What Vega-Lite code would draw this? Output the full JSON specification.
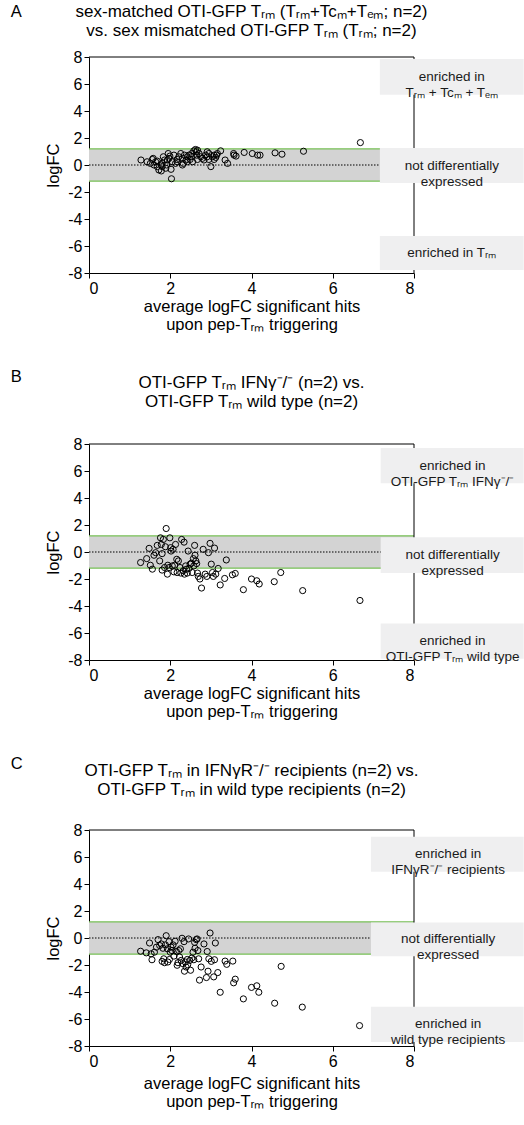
{
  "$schema": "https://vega.github.io/schema/vega-lite/v6.json",
  "padding": {"left": 10, "top": 3, "right": 0, "bottom": 0},
  "spacing": 35,
  "config": {
    "font": "Liberation Sans",
    "view": {"stroke": null},
    "axis": {"domainColor": "black", "tickColor": "black", "labelColor": "black", "titleColor": "black", "grid": false, "labelFontSize": 16, "titleFontSize": 16.5, "titleFontWeight": "normal", "tickSize": 5, "labelPadding": 2, "labelOverlap": false, "labelExpr": "'' + datum.value"},
    "axisX": {"tickCount": 5},
    "axisY": {"tickCount": 9},
    "rect": {"opacity": 1},
    "title": {"fontSize": 17, "fontWeight": "normal", "color": "black", "lineHeight": 19}
  },
  "datasets": {
    "one": [{}],
    "a": [
      {"x":1.28,"y":0.37},{"x":1.43,"y":0.24},{"x":1.51,"y":0.12},{"x":1.56,"y":0.41},{"x":1.58,"y":0.49},{"x":1.64,"y":0.24},{"x":1.68,"y":-0.12},{"x":1.72,"y":-0.37},{"x":1.78,"y":-0.44},{"x":1.8,"y":0.12},{"x":1.83,"y":0.61},{"x":1.86,"y":0.37},{"x":1.91,"y":0.0},{"x":1.95,"y":0.85},{"x":1.97,"y":0.49},{"x":1.99,"y":0.66},{"x":2.02,"y":-0.32},{"x":2.03,"y":-1.02},{"x":2.05,"y":0.24},{"x":2.09,"y":0.73},{"x":2.13,"y":0.12},{"x":2.17,"y":0.41},{"x":2.21,"y":0.61},{"x":2.26,"y":0.85},{"x":2.3,"y":0.49},{"x":2.32,"y":0.12},{"x":2.35,"y":0.73},{"x":2.39,"y":0.37},{"x":2.42,"y":0.61},{"x":2.46,"y":0.73},{"x":2.49,"y":0.41},{"x":2.52,"y":0.61},{"x":2.55,"y":0.24},{"x":2.58,"y":1.05},{"x":2.62,"y":1.15},{"x":2.65,"y":0.73},{"x":2.67,"y":0.41},{"x":2.71,"y":0.85},{"x":2.75,"y":0.61},{"x":2.79,"y":0.49},{"x":2.83,"y":0.37},{"x":2.87,"y":0.73},{"x":2.91,"y":0.98},{"x":2.95,"y":0.85},{"x":3.0,"y":-0.12},{"x":3.04,"y":0.61},{"x":3.08,"y":0.73},{"x":3.12,"y":0.56},{"x":3.16,"y":0.85},{"x":3.24,"y":1.05},{"x":3.35,"y":0.37},{"x":3.41,"y":0.12},{"x":3.56,"y":0.85},{"x":3.57,"y":0.73},{"x":3.62,"y":0.66},{"x":3.82,"y":0.93},{"x":4.02,"y":0.85},{"x":4.15,"y":0.73},{"x":4.21,"y":0.73},{"x":4.58,"y":0.9},{"x":4.75,"y":0.8},{"x":5.28,"y":1.02},{"x":6.68,"y":1.66},
      {"x":1.93,"y":0.37},{"x":2.17,"y":0.24},{"x":2.42,"y":0.24},{"x":2.53,"y":0.85},{"x":2.64,"y":0.98},{"x":2.67,"y":1.1},{"x":2.91,"y":0.61},{"x":2.95,"y":0.41},{"x":3.08,"y":0.41},{"x":3.14,"y":0.73},{"x":2.3,"y":0.0},{"x":1.78,"y":0.0},{"x":1.89,"y":-0.24},{"x":1.6,"y":0.0},{"x":1.68,"y":0.29},{"x":1.8,"y":-0.12}
    ],
    "b": [
      {"x":1.27,"y":-0.78},{"x":1.42,"y":-0.49},{"x":1.48,"y":0.27},{"x":1.51,"y":-0.98},{"x":1.56,"y":-1.27},{"x":1.6,"y":-0.24},{"x":1.64,"y":-0.05},{"x":1.68,"y":0.49},{"x":1.74,"y":-0.66},{"x":1.76,"y":1.05},{"x":1.78,"y":0.56},{"x":1.8,"y":-0.12},{"x":1.8,"y":-1.34},{"x":1.83,"y":0.93},{"x":1.86,"y":-1.15},{"x":1.88,"y":0.39},{"x":1.9,"y":1.74},{"x":1.93,"y":-1.64},{"x":1.94,"y":-0.98},{"x":1.97,"y":-1.15},{"x":1.99,"y":1.05},{"x":2.01,"y":0.32},{"x":2.02,"y":0.07},{"x":2.05,"y":-1.03},{"x":2.07,"y":0.2},{"x":2.09,"y":-1.47},{"x":2.11,"y":-0.98},{"x":2.13,"y":0.56},{"x":2.16,"y":-0.54},{"x":2.17,"y":-1.52},{"x":2.2,"y":-0.66},{"x":2.24,"y":-1.15},{"x":2.26,"y":-1.56},{"x":2.28,"y":0.93},{"x":2.32,"y":-1.39},{"x":2.34,"y":0.73},{"x":2.35,"y":-1.64},{"x":2.38,"y":-1.03},{"x":2.4,"y":-1.27},{"x":2.42,"y":-1.56},{"x":2.44,"y":0.07},{"x":2.46,"y":-1.22},{"x":2.49,"y":-0.9},{"x":2.52,"y":-0.83},{"x":2.54,"y":-1.52},{"x":2.57,"y":-0.49},{"x":2.58,"y":-1.03},{"x":2.6,"y":0.49},{"x":2.61,"y":-0.24},{"x":2.63,"y":-0.66},{"x":2.65,"y":-0.86},{"x":2.67,"y":-1.56},{"x":2.69,"y":-1.81},{"x":2.73,"y":-2.0},{"x":2.77,"y":-2.67},{"x":2.81,"y":0.2},{"x":2.86,"y":-1.64},{"x":2.9,"y":-1.81},{"x":2.94,"y":-0.05},{"x":2.98,"y":0.64},{"x":3.01,"y":-0.9},{"x":3.04,"y":-1.52},{"x":3.06,"y":-1.81},{"x":3.09,"y":0.29},{"x":3.12,"y":-1.64},{"x":3.18,"y":-1.22},{"x":3.23,"y":-2.44},{"x":3.34,"y":-1.96},{"x":3.38,"y":-0.59},{"x":3.53,"y":-1.69},{"x":3.6,"y":-1.59},{"x":3.8,"y":-2.79},{"x":4.0,"y":-2.0},{"x":4.13,"y":-2.13},{"x":4.19,"y":-2.37},{"x":4.56,"y":-2.2},{"x":4.72,"y":-1.52},{"x":5.26,"y":-2.86},{"x":6.67,"y":-3.59}
    ],
    "c": [
      {"x":1.27,"y":-0.98},{"x":1.41,"y":-1.1},{"x":1.49,"y":-0.37},{"x":1.53,"y":-1.17},{"x":1.55,"y":-1.61},{"x":1.61,"y":-1.05},{"x":1.66,"y":-0.68},{"x":1.7,"y":-0.12},{"x":1.74,"y":-0.56},{"x":1.78,"y":-0.44},{"x":1.8,"y":-1.73},{"x":1.82,"y":-0.76},{"x":1.84,"y":-1.54},{"x":1.86,"y":-1.83},{"x":1.88,"y":-0.51},{"x":1.9,"y":0.17},{"x":1.93,"y":-0.8},{"x":1.94,"y":-1.78},{"x":1.97,"y":-0.27},{"x":1.98,"y":-1.59},{"x":2.0,"y":-1.05},{"x":2.02,"y":-0.68},{"x":2.04,"y":-0.93},{"x":2.07,"y":-0.51},{"x":2.09,"y":-1.34},{"x":2.12,"y":-0.24},{"x":2.15,"y":-1.0},{"x":2.17,"y":-2.02},{"x":2.19,"y":-1.83},{"x":2.21,"y":-0.93},{"x":2.23,"y":-1.41},{"x":2.25,"y":-0.8},{"x":2.27,"y":-1.66},{"x":2.29,"y":-0.02},{"x":2.31,"y":-1.9},{"x":2.34,"y":-0.27},{"x":2.35,"y":-2.46},{"x":2.37,"y":-1.78},{"x":2.39,"y":-2.15},{"x":2.42,"y":-1.59},{"x":2.43,"y":-1.98},{"x":2.45,"y":-0.07},{"x":2.48,"y":-1.66},{"x":2.5,"y":-2.39},{"x":2.53,"y":-1.49},{"x":2.56,"y":-1.05},{"x":2.58,"y":-1.61},{"x":2.6,"y":-0.32},{"x":2.61,"y":-0.76},{"x":2.64,"y":-0.12},{"x":2.66,"y":-0.07},{"x":2.68,"y":-0.93},{"x":2.7,"y":-1.54},{"x":2.72,"y":-3.12},{"x":2.76,"y":-2.15},{"x":2.83,"y":-0.44},{"x":2.89,"y":-2.93},{"x":2.91,"y":-1.0},{"x":2.93,"y":-2.46},{"x":2.95,"y":-1.54},{"x":2.98,"y":0.37},{"x":3.01,"y":-1.73},{"x":3.07,"y":-2.88},{"x":3.09,"y":-1.61},{"x":3.11,"y":-0.37},{"x":3.17,"y":-2.56},{"x":3.23,"y":-4.02},{"x":3.35,"y":-1.71},{"x":3.39,"y":-1.95},{"x":3.54,"y":-1.71},{"x":3.56,"y":-3.32},{"x":3.6,"y":-3.05},{"x":3.8,"y":-4.51},{"x":4.0,"y":-3.66},{"x":4.13,"y":-3.54},{"x":4.18,"y":-4.02},{"x":4.57,"y":-4.83},{"x":4.73,"y":-2.1},{"x":5.25,"y":-5.12},{"x":6.66,"y":-6.49}
    ],
    "thr": [{"t": 1.2}, {"t": -1.2}]
  },
  "vconcat": [
    {
      "title": {"text": "A", "anchor": "start", "fontSize": 16.5, "dx": -35, "dy": 17, "offset": 0},
      "vconcat": [{
      "width": 325, "height": 216,
      "title": {"text": ["sex-matched OTI-GFP Tᵣₘ  (Tᵣₘ+Tcₘ+Tₑₘ; n=2)", "vs. sex mismatched OTI-GFP Tᵣₘ (Tᵣₘ; n=2)"], "offset": 9},
      "layer": [
        {"data": {"name": "one"}, "mark": {"type": "rect", "color": "#d3d3d3"}, "encoding": {"x": {"datum": 0, "type": "quantitative", "scale": {"domain": [0, 8], "nice": false}}, "x2": {"datum": 8}, "y": {"datum": -1.2, "type": "quantitative", "scale": {"domain": [-8, 8], "nice": false}}, "y2": {"datum": 1.2}}},
        {"data": {"name": "thr"}, "mark": {"type": "rule", "color": "#78c257", "strokeWidth": 1.2}, "encoding": {"x": {"datum": 0, "type": "quantitative", "scale": {"domain": [0, 8], "nice": false}}, "x2": {"datum": 8}, "y": {"field": "t", "type": "quantitative", "scale": {"domain": [-8, 8], "nice": false}}}},
        {"data": {"name": "one"}, "mark": {"type": "rule", "color": "black", "strokeWidth": 1.2, "strokeDash": [1.5, 1.5]}, "encoding": {"x": {"datum": 0, "type": "quantitative", "scale": {"domain": [0, 8], "nice": false}}, "x2": {"datum": 8}, "y": {"datum": 0, "type": "quantitative", "scale": {"domain": [-8, 8], "nice": false}}}},
        {"data": {"name": "one"}, "mark": {"type": "rule", "color": "black", "strokeWidth": 1}, "encoding": {"x": {"datum": 0, "type": "quantitative", "scale": {"domain": [0, 8], "nice": false}}, "x2": {"datum": 8}, "y": {"datum": 8, "type": "quantitative", "scale": {"domain": [-8, 8], "nice": false}}}},
        {"data": {"name": "one"}, "mark": {"type": "rule", "color": "black", "strokeWidth": 1}, "encoding": {"x": {"datum": 8, "type": "quantitative", "scale": {"domain": [0, 8], "nice": false}}, "y": {"datum": -8, "type": "quantitative", "scale": {"domain": [-8, 8], "nice": false}}, "y2": {"datum": 8}}},
        {"data": {"name": "a"}, "mark": {"type": "point", "shape": "circle", "filled": false, "stroke": "black", "strokeWidth": 1, "size": 38, "opacity": 1},
         "encoding": {"x": {"field": "x", "type": "quantitative", "scale": {"domain": [0, 8], "nice": false}, "axis": {"title": ["average logFC significant hits", "upon  pep-Tᵣₘ triggering"], "titlePadding": 2}},
                      "y": {"field": "y", "type": "quantitative", "scale": {"domain": [-8, 8], "nice": false}, "axis": {"title": "logFC", "titlePadding": 6}}}},
        {"data": {"name": "one"}, "mark": {"type": "rect", "color": "#efeff0", "opacity": 1}, "encoding": {"x": {"datum": 7.16, "type": "quantitative", "scale": {"domain": [0, 8], "nice": false}}, "x2": {"datum": 10.7}, "y": {"datum": 5.2, "type": "quantitative", "scale": {"domain": [-8, 8], "nice": false}}, "y2": {"datum": 7.85}}},
        {"data": {"name": "one"}, "mark": {"type": "rect", "color": "#efeff0", "opacity": 1}, "encoding": {"x": {"datum": 7.16, "type": "quantitative", "scale": {"domain": [0, 8], "nice": false}}, "x2": {"datum": 10.7}, "y": {"datum": -1.33, "type": "quantitative", "scale": {"domain": [-8, 8], "nice": false}}, "y2": {"datum": 1.26}}},
        {"data": {"name": "one"}, "mark": {"type": "rect", "color": "#efeff0", "opacity": 1}, "encoding": {"x": {"datum": 7.16, "type": "quantitative", "scale": {"domain": [0, 8], "nice": false}}, "x2": {"datum": 10.7}, "y": {"datum": -7.78, "type": "quantitative", "scale": {"domain": [-8, 8], "nice": false}}, "y2": {"datum": -5.26}}},
        {"data": {"name": "one"}, "mark": {"type": "text", "fontSize": 13.5, "lineHeight": 16, "align": "center", "baseline": "middle", "color": "#1a1a1a"}, "encoding": {"x": {"datum": 8.93, "type": "quantitative", "scale": {"domain": [0, 8], "nice": false}}, "y": {"datum": 6.5, "type": "quantitative", "scale": {"domain": [-8, 8], "nice": false}}, "text": {"value": ["enriched in", "Tᵣₘ + Tcₘ + Tₑₘ"]}}},
        {"data": {"name": "one"}, "mark": {"type": "text", "fontSize": 13.5, "lineHeight": 16, "align": "center", "baseline": "middle", "color": "#1a1a1a"}, "encoding": {"x": {"datum": 8.93, "type": "quantitative", "scale": {"domain": [0, 8], "nice": false}}, "y": {"datum": -0.05, "type": "quantitative", "scale": {"domain": [-8, 8], "nice": false}}, "text": {"value": ["not differentially", "expressed"]}}},
        {"data": {"name": "one"}, "mark": {"type": "text", "fontSize": 13.5, "lineHeight": 16, "align": "center", "baseline": "middle", "color": "#1a1a1a"}, "encoding": {"x": {"datum": 8.93, "type": "quantitative", "scale": {"domain": [0, 8], "nice": false}}, "y": {"datum": -6.5, "type": "quantitative", "scale": {"domain": [-8, 8], "nice": false}}, "text": {"value": "enriched in Tᵣₘ"}}}
      ]
      }]
    },
    {
      "title": {"text": "B", "anchor": "start", "fontSize": 16.5, "dx": -35, "dy": 11, "offset": 0},
      "vconcat": [{
      "width": 325, "height": 216,
      "title": {"text": ["OTI-GFP Tᵣₘ IFNγ⁻/⁻  (n=2) vs.", "OTI-GFP Tᵣₘ wild type (n=2)"], "offset": 25},
      "layer": [
        {"data": {"name": "one"}, "mark": {"type": "rect", "color": "#d3d3d3"}, "encoding": {"x": {"datum": 0, "type": "quantitative", "scale": {"domain": [0, 8], "nice": false}}, "x2": {"datum": 8}, "y": {"datum": -1.2, "type": "quantitative", "scale": {"domain": [-8, 8], "nice": false}}, "y2": {"datum": 1.2}}},
        {"data": {"name": "thr"}, "mark": {"type": "rule", "color": "#78c257", "strokeWidth": 1.2}, "encoding": {"x": {"datum": 0, "type": "quantitative", "scale": {"domain": [0, 8], "nice": false}}, "x2": {"datum": 8}, "y": {"field": "t", "type": "quantitative", "scale": {"domain": [-8, 8], "nice": false}}}},
        {"data": {"name": "one"}, "mark": {"type": "rule", "color": "black", "strokeWidth": 1.2, "strokeDash": [1.5, 1.5]}, "encoding": {"x": {"datum": 0, "type": "quantitative", "scale": {"domain": [0, 8], "nice": false}}, "x2": {"datum": 8}, "y": {"datum": 0, "type": "quantitative", "scale": {"domain": [-8, 8], "nice": false}}}},
        {"data": {"name": "one"}, "mark": {"type": "rule", "color": "black", "strokeWidth": 1}, "encoding": {"x": {"datum": 0, "type": "quantitative", "scale": {"domain": [0, 8], "nice": false}}, "x2": {"datum": 8}, "y": {"datum": 8, "type": "quantitative", "scale": {"domain": [-8, 8], "nice": false}}}},
        {"data": {"name": "one"}, "mark": {"type": "rule", "color": "black", "strokeWidth": 1}, "encoding": {"x": {"datum": 8, "type": "quantitative", "scale": {"domain": [0, 8], "nice": false}}, "y": {"datum": -8, "type": "quantitative", "scale": {"domain": [-8, 8], "nice": false}}, "y2": {"datum": 8}}},
        {"data": {"name": "b"}, "mark": {"type": "point", "shape": "circle", "filled": false, "stroke": "black", "strokeWidth": 1, "size": 38, "opacity": 1},
         "encoding": {"x": {"field": "x", "type": "quantitative", "scale": {"domain": [0, 8], "nice": false}, "axis": {"title": ["average logFC significant hits", "upon  pep-Tᵣₘ triggering"], "titlePadding": 2}},
                      "y": {"field": "y", "type": "quantitative", "scale": {"domain": [-8, 8], "nice": false}, "axis": {"title": "logFC", "titlePadding": 6}}}},
        {"data": {"name": "one"}, "mark": {"type": "rect", "color": "#efeff0", "opacity": 1}, "encoding": {"x": {"datum": 7.18, "type": "quantitative", "scale": {"domain": [0, 8], "nice": false}}, "x2": {"datum": 10.7}, "y": {"datum": 5.1, "type": "quantitative", "scale": {"domain": [-8, 8], "nice": false}}, "y2": {"datum": 7.7}}},
        {"data": {"name": "one"}, "mark": {"type": "rect", "color": "#efeff0", "opacity": 1}, "encoding": {"x": {"datum": 7.18, "type": "quantitative", "scale": {"domain": [0, 8], "nice": false}}, "x2": {"datum": 10.7}, "y": {"datum": -1.55, "type": "quantitative", "scale": {"domain": [-8, 8], "nice": false}}, "y2": {"datum": 1.1}}},
        {"data": {"name": "one"}, "mark": {"type": "rect", "color": "#efeff0", "opacity": 1}, "encoding": {"x": {"datum": 7.18, "type": "quantitative", "scale": {"domain": [0, 8], "nice": false}}, "x2": {"datum": 10.7}, "y": {"datum": -7.9, "type": "quantitative", "scale": {"domain": [-8, 8], "nice": false}}, "y2": {"datum": -5.3}}},
        {"data": {"name": "one"}, "mark": {"type": "text", "fontSize": 13.5, "lineHeight": 16, "align": "center", "baseline": "middle", "color": "#1a1a1a"}, "encoding": {"x": {"datum": 8.95, "type": "quantitative", "scale": {"domain": [0, 8], "nice": false}}, "y": {"datum": 6.4, "type": "quantitative", "scale": {"domain": [-8, 8], "nice": false}}, "text": {"value": ["enriched in", "OTI-GFP Tᵣₘ IFNγ⁻/⁻"]}}},
        {"data": {"name": "one"}, "mark": {"type": "text", "fontSize": 13.5, "lineHeight": 16, "align": "center", "baseline": "middle", "color": "#1a1a1a"}, "encoding": {"x": {"datum": 8.95, "type": "quantitative", "scale": {"domain": [0, 8], "nice": false}}, "y": {"datum": -0.2, "type": "quantitative", "scale": {"domain": [-8, 8], "nice": false}}, "text": {"value": ["not differentially", "expressed"]}}},
        {"data": {"name": "one"}, "mark": {"type": "text", "fontSize": 13.5, "lineHeight": 16, "align": "center", "baseline": "middle", "color": "#1a1a1a"}, "encoding": {"x": {"datum": 8.95, "type": "quantitative", "scale": {"domain": [0, 8], "nice": false}}, "y": {"datum": -6.6, "type": "quantitative", "scale": {"domain": [-8, 8], "nice": false}}, "text": {"value": ["enriched in", "OTI-GFP Tᵣₘ wild type"]}}}
      ]
      }]
    },
    {
      "title": {"text": "C", "anchor": "start", "fontSize": 16.5, "dx": -35, "dy": 10, "offset": 0},
      "vconcat": [{
      "width": 325, "height": 216,
      "title": {"text": ["OTI-GFP Tᵣₘ in IFNγR⁻/⁻ recipients (n=2) vs.", "OTI-GFP Tᵣₘ in wild type recipients (n=2)"], "offset": 23},
      "layer": [
        {"data": {"name": "one"}, "mark": {"type": "rect", "color": "#d3d3d3"}, "encoding": {"x": {"datum": 0, "type": "quantitative", "scale": {"domain": [0, 8], "nice": false}}, "x2": {"datum": 8}, "y": {"datum": -1.2, "type": "quantitative", "scale": {"domain": [-8, 8], "nice": false}}, "y2": {"datum": 1.2}}},
        {"data": {"name": "thr"}, "mark": {"type": "rule", "color": "#78c257", "strokeWidth": 1.2}, "encoding": {"x": {"datum": 0, "type": "quantitative", "scale": {"domain": [0, 8], "nice": false}}, "x2": {"datum": 8}, "y": {"field": "t", "type": "quantitative", "scale": {"domain": [-8, 8], "nice": false}}}},
        {"data": {"name": "one"}, "mark": {"type": "rule", "color": "black", "strokeWidth": 1.2, "strokeDash": [1.5, 1.5]}, "encoding": {"x": {"datum": 0, "type": "quantitative", "scale": {"domain": [0, 8], "nice": false}}, "x2": {"datum": 8}, "y": {"datum": 0, "type": "quantitative", "scale": {"domain": [-8, 8], "nice": false}}}},
        {"data": {"name": "one"}, "mark": {"type": "rule", "color": "black", "strokeWidth": 1}, "encoding": {"x": {"datum": 0, "type": "quantitative", "scale": {"domain": [0, 8], "nice": false}}, "x2": {"datum": 8}, "y": {"datum": 8, "type": "quantitative", "scale": {"domain": [-8, 8], "nice": false}}}},
        {"data": {"name": "one"}, "mark": {"type": "rule", "color": "black", "strokeWidth": 1}, "encoding": {"x": {"datum": 8, "type": "quantitative", "scale": {"domain": [0, 8], "nice": false}}, "y": {"datum": -8, "type": "quantitative", "scale": {"domain": [-8, 8], "nice": false}}, "y2": {"datum": 8}}},
        {"data": {"name": "c"}, "mark": {"type": "point", "shape": "circle", "filled": false, "stroke": "black", "strokeWidth": 1, "size": 38, "opacity": 1},
         "encoding": {"x": {"field": "x", "type": "quantitative", "scale": {"domain": [0, 8], "nice": false}, "axis": {"title": ["average logFC significant hits", "upon  pep-Tᵣₘ triggering"], "titlePadding": 6}},
                      "y": {"field": "y", "type": "quantitative", "scale": {"domain": [-8, 8], "nice": false}, "axis": {"title": "logFC", "titlePadding": 6}}}},
        {"data": {"name": "one"}, "mark": {"type": "rect", "color": "#efeff0", "opacity": 1}, "encoding": {"x": {"datum": 6.94, "type": "quantitative", "scale": {"domain": [0, 8], "nice": false}}, "x2": {"datum": 10.7}, "y": {"datum": 4.9, "type": "quantitative", "scale": {"domain": [-8, 8], "nice": false}}, "y2": {"datum": 7.5}}},
        {"data": {"name": "one"}, "mark": {"type": "rect", "color": "#efeff0", "opacity": 1}, "encoding": {"x": {"datum": 6.94, "type": "quantitative", "scale": {"domain": [0, 8], "nice": false}}, "x2": {"datum": 10.7}, "y": {"datum": -1.35, "type": "quantitative", "scale": {"domain": [-8, 8], "nice": false}}, "y2": {"datum": 1.15}}},
        {"data": {"name": "one"}, "mark": {"type": "rect", "color": "#efeff0", "opacity": 1}, "encoding": {"x": {"datum": 6.94, "type": "quantitative", "scale": {"domain": [0, 8], "nice": false}}, "x2": {"datum": 10.7}, "y": {"datum": -7.7, "type": "quantitative", "scale": {"domain": [-8, 8], "nice": false}}, "y2": {"datum": -5.1}}},
        {"data": {"name": "one"}, "mark": {"type": "text", "fontSize": 13.5, "lineHeight": 16, "align": "center", "baseline": "middle", "color": "#1a1a1a"}, "encoding": {"x": {"datum": 8.84, "type": "quantitative", "scale": {"domain": [0, 8], "nice": false}}, "y": {"datum": 6.2, "type": "quantitative", "scale": {"domain": [-8, 8], "nice": false}}, "text": {"value": ["enriched in", "IFNγR⁻/⁻ recipients"]}}},
        {"data": {"name": "one"}, "mark": {"type": "text", "fontSize": 13.5, "lineHeight": 16, "align": "center", "baseline": "middle", "color": "#1a1a1a"}, "encoding": {"x": {"datum": 8.84, "type": "quantitative", "scale": {"domain": [0, 8], "nice": false}}, "y": {"datum": -0.1, "type": "quantitative", "scale": {"domain": [-8, 8], "nice": false}}, "text": {"value": ["not differentially", "expressed"]}}},
        {"data": {"name": "one"}, "mark": {"type": "text", "fontSize": 13.5, "lineHeight": 16, "align": "center", "baseline": "middle", "color": "#1a1a1a"}, "encoding": {"x": {"datum": 8.84, "type": "quantitative", "scale": {"domain": [0, 8], "nice": false}}, "y": {"datum": -6.4, "type": "quantitative", "scale": {"domain": [-8, 8], "nice": false}}, "text": {"value": ["enriched in", "wild type recipients"]}}}
      ]
      }]
    }
  ]
}
